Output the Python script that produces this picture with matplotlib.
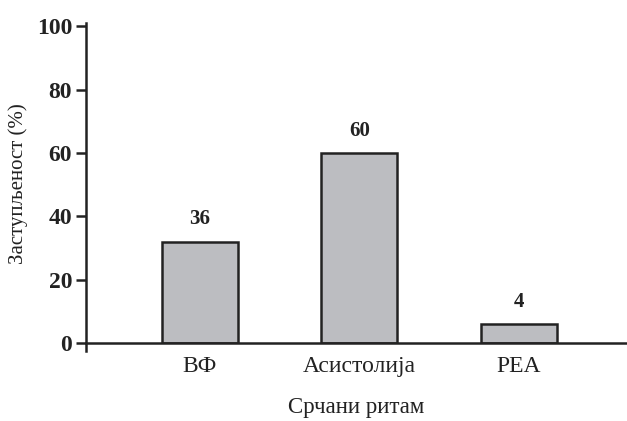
import matplotlib.pyplot as plt

# categories and values
rhythms = ["ВФ", "Асистолија", "РЕА"]
bar_heights = [32, 60, 6]
value_labels = ["36", "60", "4"]
y_ticks = [0, 20, 40, 60, 80, 100]

plt.rcParams['font.family'] = ['Liberation Serif', 'DejaVu Serif']

fig = plt.figure(figsize=(6.27, 4.21), dpi=100)
ax = fig.add_axes([0.137, 0.185, 0.863, 0.76])

x = [1, 2, 3]
bars = ax.bar(x, bar_heights, width=0.477, color="#bcbdc1",
              edgecolor="#222222", linewidth=1.8, zorder=2)

for xi, h, lab in zip(x, bar_heights, value_labels):
    ax.annotate(lab, (xi, h), xytext=(0, 9), textcoords="offset points",
                ha="center", va="bottom", fontsize=15, fontweight="bold",
                color="#222222")

ax.set_xlim(0.285, 3.68)
ax.set_ylim(0, 101)
ax.set_yticks(y_ticks)
ax.set_yticklabels([str(t) for t in y_ticks], fontweight="bold")
ax.set_xticks(x)
ax.set_xticklabels(rhythms)

ax.spines['top'].set_visible(False)
ax.spines['right'].set_visible(False)
for s in ['left', 'bottom']:
    ax.spines[s].set_linewidth(1.8)
    ax.spines[s].set_color("#222222")
ax.spines['left'].set_bounds(-2.5, 101)
ax.spines['bottom'].set_position(('data', 0))

ax.tick_params(axis='y', length=7, width=1.8, color="#222222", pad=3,
               labelcolor="#222222", labelsize=17)
ax.tick_params(axis='x', length=0, pad=9, labelcolor="#222222", labelsize=17)

ax.set_xlabel("Срчани ритам", fontsize=16.5, color="#222222", labelpad=15)
ax.set_ylabel("Заступљеност (%)", fontsize=15, color="#222222", labelpad=6)

fig.savefig("out.png", dpi=100)
